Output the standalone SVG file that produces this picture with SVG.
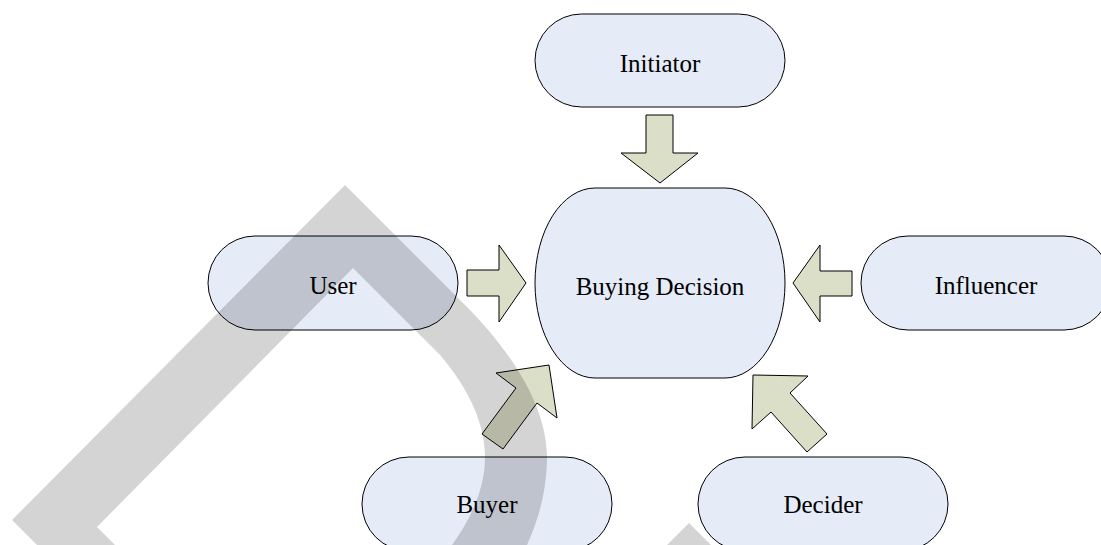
<svg xmlns="http://www.w3.org/2000/svg" width="1101" height="545" viewBox="0 0 1101 545">
  <style>
    .node { fill: #e5ebf7; stroke: #000; stroke-width: 1; }
    .arrow { fill: #dcdfc8; stroke: #000; stroke-width: 1; stroke-linejoin: miter; }
    .label { font-family: "Liberation Serif", "Times New Roman", serif; font-size: 25px; fill: #000; text-anchor: middle; }
    .wash { fill: #000; fill-opacity: 0.17; }
  </style>
  <rect width="1101" height="545" fill="#fff"/>

  <g id="initiator">
    <rect class="node" x="535" y="14" width="250" height="93" rx="46.5" ry="46.5"/>
    <text class="label" x="660" y="72">Initiator</text>
  </g>
  <g id="buying-decision">
    <rect class="node" x="535" y="188" width="250" height="190" rx="60" ry="95"/>
    <text class="label" x="660" y="295">Buying Decision</text>
  </g>
  <g id="user">
    <rect class="node" x="208" y="236" width="250" height="94" rx="47" ry="47"/>
    <text class="label" x="333" y="294">User</text>
  </g>
  <g id="influencer">
    <rect class="node" x="861" y="236" width="250" height="94" rx="47" ry="47"/>
    <text class="label" x="986" y="294">Influencer</text>
  </g>
  <g id="buyer">
    <rect class="node" x="362" y="457" width="250" height="94" rx="47" ry="47"/>
    <text class="label" x="487" y="513">Buyer</text>
  </g>
  <g id="decider">
    <rect class="node" x="698" y="457" width="250" height="94" rx="47" ry="47"/>
    <text class="label" x="823" y="513">Decider</text>
  </g>

  <g id="connectors">
    <!-- Initiator down -->
    <polygon class="arrow" points="646,115 673,115 673,153 698,153 660,183 621,153 646,153"/>
    <!-- User right -->
    <polygon class="arrow" points="467,270 499,270 499,245 526,283 499,322 499,296 467,296"/>
    <!-- Influencer left -->
    <polygon class="arrow" points="852,271 820,271 820,245 793,283 820,322 820,296 852,296"/>
    <!-- Buyer diagonal -->
    <polygon class="arrow" points="549,365 557,418 537,403 503,449 482,434 516,388 496,373"/>
    <!-- Decider diagonal -->
    <polygon class="arrow" points="753,375 808,376 790,393 827,434 807,452 771,412 752,429"/>
  </g>

  <!-- translucent grey band laid over the chart -->
  <g id="wash">
    <path class="wash" d="M37,545 L12,520 L345,185 L465,305 C515,355 548,410 547,460 C546,495 538,520 527,545 L452,545 C470,520 485,490 485,457 C485,425 470,390 440,355 L353,268 L97,527 L115,545 Z"/>
    <path class="wash" d="M667,545 L689,523 L711,545 Z"/>
  </g>
</svg>
